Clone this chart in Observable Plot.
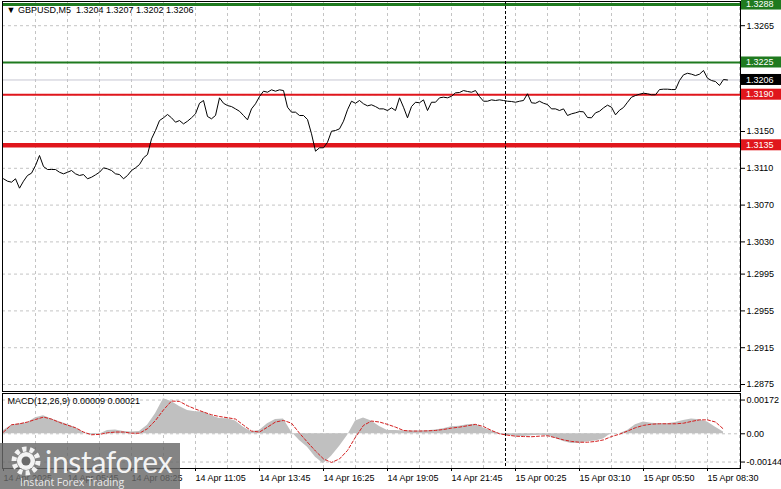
<!DOCTYPE html>
<html>
<head>
<meta charset="utf-8">
<script src="https://cdn.jsdelivr.net/npm/d3@7"></script>
<script src="https://cdn.jsdelivr.net/npm/@observablehq/plot@0.6"></script>
<style>
  html, body { margin: 0; padding: 0; background: #fff; }
  #wrap { position: relative; width: 781px; height: 489px; overflow: hidden; background: #fff; }
  #wrap > svg, #wrap > div { position: absolute; left: 0; }
</style>
</head>
<body>
<div id="wrap"></div>
<script>
// ---------- DATA ----------
const symbolHeader = "▼ GBPUSD,M5  1.3204 1.3207 1.3202 1.3206";
const macdHeader = "MACD(12,26,9) 0.00009 0.00021";

// close prices, one value every 2 bars (M5), starting 14 Apr 03:05
const priceStep = 2;
const closes = [
  1.30986, 1.30960, 1.30949, 1.30986, 1.30884, 1.30960, 1.31022, 1.31047, 1.31130, 1.31239,
  1.31119, 1.31087, 1.31087, 1.31087, 1.31057, 1.31040, 1.31057, 1.31076, 1.31040, 1.31022,
  1.31032, 1.30986, 1.31003, 1.31029, 1.31057, 1.31105, 1.31094, 1.31076, 1.31040, 1.31032,
  1.30986, 1.31022, 1.31076, 1.31105, 1.31141, 1.31214, 1.31250,
  1.31420, 1.31511, 1.31619, 1.31649, 1.31685, 1.31649, 1.31601, 1.31619, 1.31583, 1.31612,
  1.31649, 1.31692, 1.31807, 1.31837, 1.31663, 1.31638, 1.31674, 1.31866, 1.31807, 1.31782,
  1.31771, 1.31746, 1.31720, 1.31674, 1.31627, 1.31746, 1.31801, 1.31880, 1.31938, 1.31927,
  1.31953, 1.31938, 1.31953, 1.31945, 1.31764, 1.31710, 1.31710,
  1.31674, 1.31674, 1.31630, 1.31475, 1.31286, 1.31323, 1.31323, 1.31383, 1.31503, 1.31511,
  1.31529, 1.31612, 1.31736, 1.31829, 1.31807, 1.31837, 1.31801, 1.31779, 1.31790, 1.31771,
  1.31746, 1.31746, 1.31728, 1.31757, 1.31728, 1.31866, 1.31764, 1.31649, 1.31771, 1.31818,
  1.31812, 1.31844, 1.31728, 1.31818, 1.31818, 1.31866,
  1.31873, 1.31866, 1.31883, 1.31920, 1.31924, 1.31945, 1.31935, 1.31927, 1.31945, 1.31880,
  1.31829, 1.31829, 1.31844, 1.31837, 1.31844, 1.31837, 1.31829, 1.31826, 1.31818, 1.31829,
  1.31837, 1.31910, 1.31812, 1.31807, 1.31829, 1.31807, 1.31793, 1.31746, 1.31746, 1.31728,
  1.31746, 1.31674, 1.31692, 1.31703, 1.31717, 1.31714,
  1.31652, 1.31649, 1.31703, 1.31720, 1.31757, 1.31786, 1.31764, 1.31681, 1.31731, 1.31761,
  1.31818, 1.31873, 1.31891, 1.31905, 1.31916, 1.31910, 1.31899, 1.31899, 1.31956, 1.31960,
  1.31960, 1.31956, 1.31956, 1.32054, 1.32116, 1.32133, 1.32123, 1.32108, 1.32123, 1.32163,
  1.32079, 1.32054, 1.32043, 1.32000, 1.32065, 1.32060
];

// MACD(12,26,9), one value every 4 bars
const macdStep = 4;
const macdMain = [
  0.00017, 0.00044, 0.00051, 0.00056, 0.00082, 0.00092, 0.00075, 0.00061, 0.00048, 0.00031,
  0.00007, -0.00007, -0.00002, 0.00017, 0.00019, 0.00012, 0.00009, 0.00012, 0.00043, 0.00102,
  0.00179, 0.00165, 0.00139, 0.00119, 0.00112, 0.00111, 0.00092, 0.00078, 0.00077, 0.00065,
  0.00034, 0.00010, 0.00017, 0.00051, 0.00073, 0.00075, 0.00009, -0.00034, -0.00068, -0.00119,
  -0.00153, -0.00114, -0.00065, -0.00009, 0.00065, 0.00080, 0.00065, 0.00037, 0.00017, 0.00017,
  0.00014, 0.00014, 0.00014, 0.00015, 0.00019, 0.00026, 0.00036, 0.00039, 0.00046, 0.00049,
  0.00029, 0.00014, 0.00003, -0.00009, -0.00012, -0.00014, -0.00010, -0.00007, -0.00010, -0.00024,
  -0.00039, -0.00049, -0.00048, -0.00041, -0.00037, -0.00026, 0.00003, 0.00000, 0.00017, 0.00046,
  0.00060, 0.00054, 0.00051, 0.00051, 0.00058, 0.00068, 0.00075, 0.00071, 0.00060, 0.00034,
  0.00009
];
const macdSignal = [
  0.00009, 0.00046, 0.00051, 0.00060, 0.00073, 0.00085, 0.00075, 0.00058, 0.00044, 0.00031,
  0.00009, -0.00005, -0.00003, 0.00005, 0.00009, 0.00009, 0.00003, 0.00003, 0.00026, 0.00068,
  0.00122, 0.00167, 0.00165, 0.00143, 0.00126, 0.00111, 0.00097, 0.00088, 0.00082, 0.00075,
  0.00044, 0.00014, 0.00009, 0.00034, 0.00060, 0.00068, 0.00054, 0.00003, -0.00043, -0.00088,
  -0.00128, -0.00146, -0.00128, -0.00085, -0.00017, 0.00043, 0.00065, 0.00060, 0.00048, 0.00034,
  0.00017, 0.00014, 0.00014, 0.00015, 0.00017, 0.00022, 0.00029, 0.00034, 0.00041, 0.00048,
  0.00037, 0.00017, 0.00000, -0.00007, -0.00012, -0.00014, -0.00015, -0.00012, -0.00010, -0.00020,
  -0.00031, -0.00039, -0.00043, -0.00043, -0.00039, -0.00031, -0.00014, -0.00002, 0.00014, 0.00031,
  0.00043, 0.00049, 0.00051, 0.00051, 0.00051, 0.00054, 0.00063, 0.00071, 0.00071, 0.00060,
  0.00024
];

const timeTickBars = [0, 32, 64, 96, 128, 160, 192, 224, 256, 288, 320, 352];
const timeTickLabels = ["14 Apr 2025", "14 Apr 05:45", "14 Apr 08:25", "14 Apr 11:05", "14 Apr 13:45",
  "14 Apr 16:25", "14 Apr 19:05", "14 Apr 21:45", "15 Apr 00:25", "15 Apr 03:10", "15 Apr 05:50", "15 Apr 08:30"];
const gridBars = [16, 32, 48, 64, 80, 96, 112, 128, 144, 160, 176, 192, 208, 224, 240, 256, 272, 288, 304, 320, 336, 352, 368];
const daySeparatorBar = 251;

const priceTicks = [1.3265, 1.3150, 1.3110, 1.3070, 1.3030, 1.2995, 1.2955, 1.2915, 1.2875];
const priceGrid = [1.3265, 1.3225, 1.3190, 1.3150, 1.3110, 1.3070, 1.3030, 1.2995, 1.2955, 1.2915, 1.2875];
const levelPrices = [1.3288, 1.3225, 1.3190, 1.3135];
const levelColors = ["#1f7a1f", "#1f7a1f", "#e0161c", "#e0161c"];
const levelWidths = [3, 2, 2, 4.5];
const bidPrice = 1.3206;
const macdTicks = [0.00172, 0, -0.00144];

// ---------- BUILD ----------
const GREEN = "#1f7a1f", RED = "#e0161c";
const font = "'Liberation Sans', Arial, sans-serif";
const priceData = closes.map((c, i) => ({bar: i * priceStep, close: c}));
const macdData = macdMain.map((m, i) => ({bar: i * macdStep, main: m, signal: macdSignal[i]}));
const levels = levelPrices.map((p, i) => ({price: p, color: levelColors[i], width: levelWidths[i]}));
const tickLabel = new Map(timeTickBars.map((b, i) => [b, timeTickLabels[i]]));
const xDomain = [-0.5, 368.5];
const gridStyle = {stroke: "#c4c4c4", strokeDasharray: "3,3", strokeWidth: 1};

const main = Plot.plot({
  width: 781, height: 392,
  marginLeft: 2, marginRight: 41, marginTop: 1, marginBottom: 1,
  x: {domain: xDomain, axis: null},
  y: {domain: [1.28674, 1.32913], axis: null},
  style: {fontFamily: font, fontSize: "9px", background: "white", overflow: "visible", color: "black"},
  marks: [
    Plot.ruleX(gridBars, gridStyle),
    Plot.ruleY(priceGrid, gridStyle),
    Plot.ruleY([bidPrice], {stroke: "#c6c6d2", strokeWidth: 1}),
    Plot.ruleY(levels, {y: "price", stroke: "color", strokeWidth: "width"}),
    Plot.ruleX([daySeparatorBar], {stroke: "black", strokeDasharray: "3,2", strokeWidth: 1}),
    Plot.lineY(priceData, {x: "bar", y: "close", stroke: "black", strokeWidth: 1}),
    Plot.axisY({anchor: "right", ticks: priceTicks, tickFormat: d3.format(".4f"), tickSize: 4, tickPadding: 2, fontSize: 9, label: null}),
    Plot.text([symbolHeader], {frameAnchor: "top-left", dx: 4, dy: 5, textAnchor: "start", lineAnchor: "top", fontSize: 9, fill: "black"}),
    Plot.frame({stroke: "black"})
  ]
});
main.style.top = "0px";
document.getElementById("wrap").appendChild(main);

// price label boxes on the right axis, placed with the plot's own y scale
const ys = main.scale("y");
const boxes = [
  {price: 1.3288, fill: GREEN, text: "1.3288"},
  {price: 1.3225, fill: GREEN, text: "1.3225"},
  {price: 1.3206, fill: "#000000", text: "1.3206"},
  {price: 1.3190, fill: RED, text: "1.3190"},
  {price: 1.3135, fill: RED, text: "1.3135"}
];
const svgMain = d3.select(main);
boxes.forEach(b => {
  const y = ys.apply(b.price);
  svgMain.append("rect").attr("x", 741).attr("y", y - 5.5).attr("width", 40).attr("height", 11).attr("fill", b.fill);
  svgMain.append("text").attr("x", 746).attr("y", y).attr("dy", "0.35em").attr("text-anchor", "start")
    .attr("fill", "white").attr("font-size", 9).attr("font-family", font).text(b.text);
});

const macd = Plot.plot({
  width: 781, height: 97,
  marginLeft: 2, marginRight: 41, marginTop: 1, marginBottom: 21,
  x: {domain: xDomain, axis: null},
  y: {domain: [-0.001769, 0.002054], axis: null},
  style: {fontFamily: font, fontSize: "9px", background: "white", overflow: "visible", color: "black"},
  marks: [
    Plot.ruleX(gridBars, gridStyle),
    Plot.ruleY(macdTicks, gridStyle),
    Plot.areaY(macdData, {x: "bar", y1: 0, y2: "main", fill: "#c0c0c0"}),
    Plot.lineY(macdData, {x: "bar", y: "signal", stroke: "#d41f1f", strokeDasharray: "3,2", strokeWidth: 1}),
    Plot.ruleX([daySeparatorBar], {stroke: "black", strokeDasharray: "3,2", strokeWidth: 1}),
    Plot.axisY({anchor: "right", ticks: macdTicks, tickFormat: d => d === 0 ? "0.00" : d.toFixed(5), tickSize: 4, tickPadding: 2, fontSize: 9, label: null}),
    Plot.axisX({anchor: "bottom", ticks: timeTickBars, tickFormat: d => tickLabel.get(d), textAnchor: "start", tickSize: 3, tickPadding: 3, fontSize: 9, label: null}),
    Plot.text([macdHeader], {frameAnchor: "top-left", dx: 5, dy: 4, textAnchor: "start", lineAnchor: "top", fontSize: 9, fill: "black"}),
    Plot.frame({stroke: "black"})
  ]
});
macd.style.top = "392px";
document.getElementById("wrap").appendChild(macd);

// watermark logo (bottom-left)
const logo = d3.select("#wrap").append("svg")
  .attr("width", 180).attr("height", 46)
  .style("position", "absolute").style("left", "0px").style("top", "443px");
logo.append("rect").attr("width", 180).attr("height", 46).attr("fill", "rgba(105,105,105,0.82)");
const gear = logo.append("g").attr("transform", "translate(26,18)");
gear.append("circle").attr("r", 12).attr("fill", "none").attr("stroke", "rgba(255,255,255,0.9)")
  .attr("stroke-width", 5).attr("stroke-dasharray", "4.2,3.3");
gear.append("circle").attr("r", 9).attr("fill", "rgba(255,255,255,0.9)");
gear.append("circle").attr("r", 4.5).attr("fill", "rgba(105,105,105,1)");
logo.append("text").attr("x", 45).attr("y", 30).attr("fill", "rgba(255,255,255,0.92)")
  .attr("font-family", "Lato, 'Open Sans', sans-serif").attr("font-size", 30).attr("font-weight", 400)
  .attr("letter-spacing", "-0.3").text("instaforex");
logo.append("text").attr("x", 20).attr("y", 43).attr("fill", "rgba(255,255,255,0.85)")
  .attr("font-family", "'Open Sans', sans-serif").attr("font-size", 10.5).text("Instant Forex Trading");
</script>
</body>
</html>
